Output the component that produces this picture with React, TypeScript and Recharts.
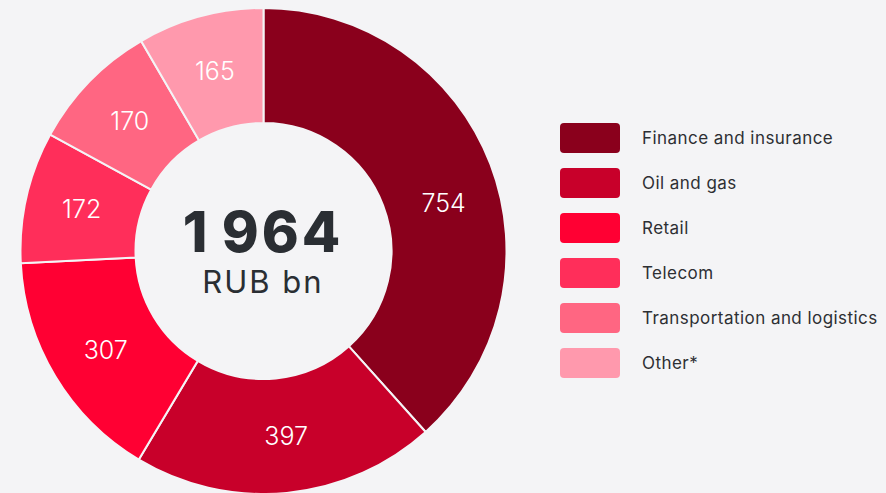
import { PieChart, Pie, Cell, Label } from "recharts";

const categories = [
  "Finance and insurance",
  "Oil and gas",
  "Retail",
  "Telecom",
  "Transportation and logistics",
  "Other*",
];
const values = [754, 397, 307, 172, 170, 165];
const colors = ["#8a001c", "#c8002a", "#ff0033", "#ff2e5a", "#ff6682", "#ff99ad"];
const totalLabel = "1\u2009964";
const unitLabel = "RUB bn";

// the big slice's value sits a bit below its mid-angle in the original
const labelAngleShift = [-6, 1.5, 1.2, 0, 0, 0];

const data = categories.map((name, i) => ({ name, value: values[i] }));

const FONT = "Inter, 'Noto Sans', sans-serif";
const RADIAN = Math.PI / 180;

function sliceLabel(props: any) {
  const { cx, cy, midAngle, innerRadius, outerRadius, value, index } = props;
  const r = (innerRadius + outerRadius) / 2 + 1;
  const a = (midAngle + (labelAngleShift[index] ?? 0)) * RADIAN;
  const x = cx + r * Math.cos(-a);
  const y = cy + r * Math.sin(-a);
  return (
    <text
      x={x}
      y={y}
      fill="#ffffff"
      fontSize={25}
      fontFamily={FONT}
      fontWeight={300}
      textAnchor="middle"
      dominantBaseline="central"
    >
      {value}
    </text>
  );
}

function centerLabel(props: any) {
  const { viewBox } = props;
  const cx = viewBox?.cx ?? 263;
  const cy = viewBox?.cy ?? 251;
  return (
    <g>
      <text
        x={cx}
        y={cy - 19}
        fill="#2a2e33"
        fontSize={56}
        fontWeight={800}
        fontFamily={FONT}
        letterSpacing={3}
        textAnchor="middle"
        dominantBaseline="central"
      >
        {totalLabel}
      </text>
      <text
        x={cx}
        y={cy + 30}
        fill="#2a2e33"
        fontSize={31}
        fontWeight={400}
        fontFamily={FONT}
        letterSpacing={2}
        textAnchor="middle"
        dominantBaseline="central"
      >
        {unitLabel}
      </text>
    </g>
  );
}

export default function App() {
  return (
    <div
      style={{
        position: "fixed",
        left: 0,
        top: 0,
        width: 886,
        height: 493,
        background: "#f4f4f6",
        overflow: "hidden",
        fontFamily: FONT,
      }}
    >
      <PieChart width={886} height={493} margin={{ top: 0, right: 0, bottom: 0, left: 0 }}>
        <Pie
          data={data}
          dataKey="value"
          nameKey="name"
          cx={263.5}
          cy={251}
          innerRadius={128}
          outerRadius={243}
          startAngle={90}
          endAngle={-270}
          stroke="#f4f4f6"
          strokeWidth={2}
          label={sliceLabel}
          labelLine={false}
          isAnimationActive={false}
        >
          {data.map((d, i) => (
            <Cell key={d.name} fill={colors[i]} />
          ))}
          <Label position="center" content={centerLabel} />
        </Pie>
      </PieChart>
      <div style={{ position: "absolute", left: 560, top: 123 }}>
        {categories.map((name, i) => (
          <div
            key={name}
            style={{ display: "flex", alignItems: "center", height: 30, marginBottom: 15 }}
          >
            <div
              style={{
                width: 60,
                height: 30,
                borderRadius: 4,
                background: colors[i],
                flexShrink: 0,
              }}
            />
            <span
              style={{
                marginLeft: 22,
                fontSize: 17,
                letterSpacing: 0.45,
                color: "#2d2f33",
                whiteSpace: "nowrap",
              }}
            >
              {name}
            </span>
          </div>
        ))}
      </div>
    </div>
  );
}
